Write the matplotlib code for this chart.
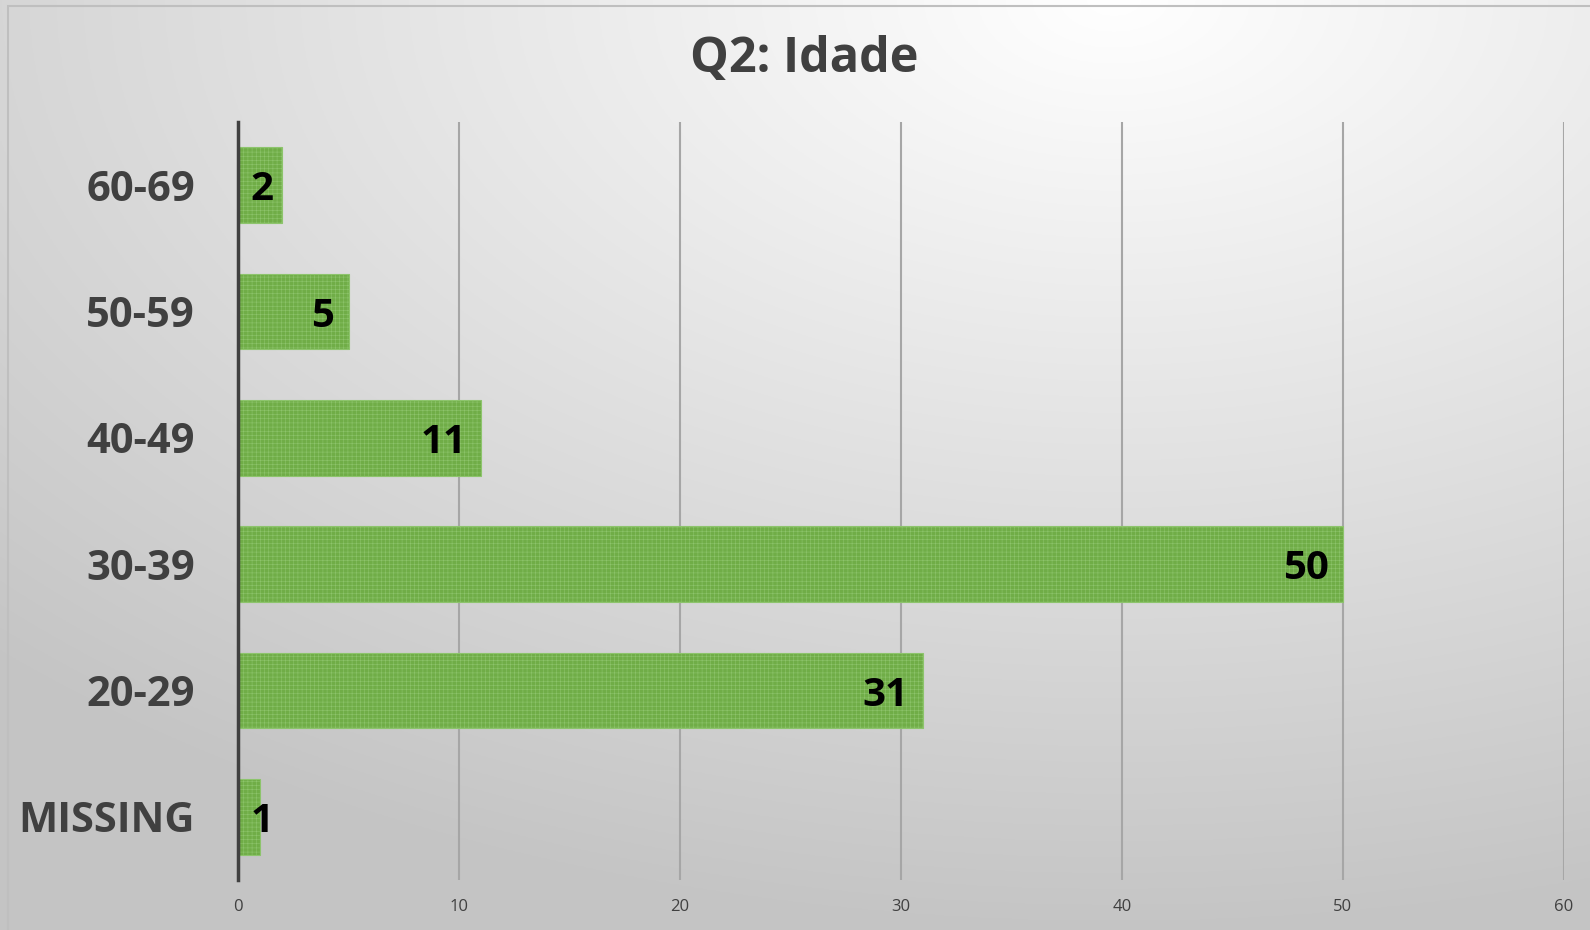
import numpy as np
import matplotlib.pyplot as plt
from matplotlib.patches import Rectangle

# Dados
categorias = ["MISSING", "20-29", "30-39", "40-49", "50-59", "60-69"]
valores = [1, 31, 50, 11, 5, 2]
ticks_x = [0, 10, 20, 30, 40, 50, 60]

plt.rcParams['font.family'] = ['Open Sans', 'DejaVu Sans']
plt.rcParams['hatch.linewidth'] = 0.4

fig = plt.figure(figsize=(15.9, 9.3), dpi=100)

# Fundo com gradiente radial
bg = fig.add_axes([0, 0, 1, 1], zorder=0)
h, w = 465, 795
yy, xx = np.mgrid[0:h, 0:w]
cx, cy = 0.70 * w, 0.0 * h
d = np.sqrt(((xx - cx) / w) ** 2 + ((yy - cy) / h) ** 2)
d = np.clip(d / 1.0, 0, 1)
g = 1.0 - 0.23 * d
img = np.dstack([g, g, g])
bg.imshow(img, aspect='auto', extent=[0, 1, 0, 1], origin='upper')
bg.set_xlim(0, 1)
bg.set_ylim(0, 1)
bg.axis('off')
bg.add_patch(Rectangle((8 / 1590, -0.1), 1.2, 1 - 6 / 930 + 0.1,
                       fill=False, edgecolor='#BFBFBF', linewidth=1.5))

ax = fig.add_axes([238 / 1590, 50 / 930, (1564 - 238) / 1590, (880 - 122) / 930], zorder=1)
ax.patch.set_alpha(0)

y = np.arange(len(categorias))
ax.barh(y, valores, height=0.6, color='#70AD47', edgecolor='#8DC46C',
        linewidth=0.8, hatch='++++', zorder=3)

# Rótulos de dados
for yi, v in zip(y, valores):
    if v <= 2:
        ax.text(0.55, yi, str(v), ha='left', va='center_baseline', fontsize=29,
                fontweight='bold', color='black', zorder=4)
    else:
        ax.text(v - 0.65, yi, str(v), ha='right', va='center_baseline', fontsize=29,
                fontweight='bold', color='black', zorder=4)

ax.set_xlim(0, 60)
ax.set_ylim(-0.5, len(categorias) - 0.5)
ax.set_xticks(ticks_x)
ax.set_xticklabels([str(t) for t in ticks_x], fontsize=12, color='#404040')
ax.set_yticks(y)
ax.set_yticklabels(categorias, fontsize=30, fontweight='bold', color='#404040')
ax.tick_params(axis='both', length=0)
ax.tick_params(axis='x', pad=14)
ax.tick_params(axis='y', pad=31)

ax.grid(axis='x', color='#A6A6A6', linewidth=1.5, zorder=1)
ax.grid(axis='y', visible=False)
for s in ['top', 'right', 'bottom']:
    ax.spines[s].set_visible(False)
ax.spines['left'].set_color('#404040')
ax.spines['left'].set_linewidth(2.5)
ax.spines['left'].set_zorder(5)

fig.text(804 / 1590, 1 - 60 / 930, "Q2: Idade", ha='center', va='center',
         fontsize=35, fontweight='bold', color='#404040')

fig.savefig('out.png', dpi=100)
